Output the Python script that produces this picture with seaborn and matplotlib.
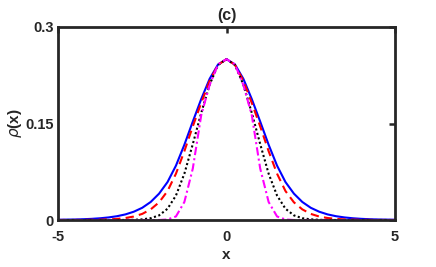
import matplotlib
matplotlib.use("Agg")
import matplotlib.pyplot as plt
import seaborn as sns
import pandas as pd

# ---- data ----
x = [-5.0, -4.75, -4.5, -4.25, -4.0, -3.75, -3.5, -3.25, -3.0, -2.75, -2.5,
     -2.25, -2.0, -1.75, -1.5, -1.25, -1.0, -0.75, -0.5, -0.25, 0.0,
     0.25, 0.5, 0.75, 1.0, 1.25, 1.5, 1.75, 2.0, 2.25, 2.5,
     2.75, 3.0, 3.25, 3.5, 3.75, 4.0, 4.25, 4.5, 4.75, 5.0]

blue = [0.0004, 0.0006, 0.0008, 0.0012, 0.0018, 0.0027, 0.0040, 0.0059, 0.0087, 0.0129, 0.0190,
        0.0280, 0.0410, 0.0590, 0.0845, 0.1170, 0.1530, 0.1880, 0.2195, 0.2418, 0.2500,
        0.2418, 0.2195, 0.1880, 0.1530, 0.1170, 0.0845, 0.0590, 0.0410, 0.0280, 0.0190,
        0.0129, 0.0087, 0.0059, 0.0040, 0.0027, 0.0018, 0.0012, 0.0008, 0.0006, 0.0004]

red = [0.0, 0.0, 0.0, 0.0001, 0.0003, 0.0005, 0.0009, 0.0017, 0.0031, 0.0054, 0.0095,
       0.0165, 0.0275, 0.0450, 0.0720, 0.1070, 0.1455, 0.1820, 0.2165, 0.2412, 0.2500,
       0.2412, 0.2165, 0.1820, 0.1455, 0.1070, 0.0720, 0.0450, 0.0275, 0.0165, 0.0095,
       0.0054, 0.0031, 0.0017, 0.0009, 0.0005, 0.0003, 0.0001, 0.0, 0.0, 0.0]

black = [0.0, 0.0, 0.0, 0.0, 0.0, 0.0, 0.0, 0.0, 0.0001, 0.0003, 0.0010,
         0.0028, 0.0072, 0.0175, 0.0380, 0.0720, 0.1180, 0.1665, 0.2105, 0.2410, 0.2500,
         0.2410, 0.2105, 0.1665, 0.1180, 0.0720, 0.0380, 0.0175, 0.0072, 0.0028, 0.0010,
         0.0003, 0.0001, 0.0, 0.0, 0.0, 0.0, 0.0, 0.0, 0.0, 0.0]

magenta = [0.0, 0.0, 0.0, 0.0, 0.0, 0.0, 0.0, 0.0, 0.0, 0.0, 0.0,
           0.0, 0.0, 0.0008, 0.0055, 0.0280, 0.0800, 0.1630, 0.2100, 0.2420, 0.2500,
           0.2420, 0.2100, 0.1630, 0.0800, 0.0280, 0.0055, 0.0008, 0.0, 0.0, 0.0,
           0.0, 0.0, 0.0, 0.0, 0.0, 0.0, 0.0, 0.0, 0.0, 0.0]

xticks = [-5, 0, 5]
xticklabels = ["-5", "0", "5"]
yticks = [0, 0.15, 0.3]
yticklabels = ["0", "0.15", "0.3"]

sns.set_style("white")
plt.rcParams["font.family"] = ["Liberation Sans", "DejaVu Sans"]
plt.rcParams["axes.unicode_minus"] = False

fig = plt.figure(figsize=(4.36, 2.67), dpi=100)
ax = fig.add_axes([58 / 436, 47 / 267, 337 / 436, 193 / 267])

series = [
    (blue, "#0000ff", "-"),
    (red, "#ff0000", (0, (4, 2.5))),
    (black, "#000000", (0, (1, 1.2))),
    (magenta, "#ff00ff", (0, (4, 1.5, 1, 1.5))),
]
for vals, col, ls in series:
    df = pd.DataFrame({"x": x, "y": vals})
    sns.lineplot(data=df, x="x", y="y", ax=ax, color=col, linestyle=ls,
                 linewidth=1.5, errorbar=None)

ax.set_xlim(-5, 5)
ax.set_ylim(0, 0.3)
ax.set_xticks(xticks)
ax.set_xticklabels(xticklabels, fontsize=10.5, fontweight="bold")
ax.set_yticks(yticks)
ax.set_yticklabels(yticklabels, fontsize=10.5, fontweight="bold")
ax.tick_params(axis="both", direction="in", length=4, width=1.8,
               top=True, right=True, colors="#262626")
ax.tick_params(axis="x", pad=7)
ax.tick_params(axis="y", pad=3)
for sp in ax.spines.values():
    sp.set_visible(True)
    sp.set_linewidth(2.0)
    sp.set_color("#262626")

ax.set_xlabel("x", fontsize=11, fontweight="bold", labelpad=3)
ax.set_ylabel(r"$\rho$(x)", fontsize=11, fontweight="bold", labelpad=1)
ax.set_title("(c)", fontsize=11.5, fontweight="bold", pad=5)

fig.savefig("out.png", dpi=100)
